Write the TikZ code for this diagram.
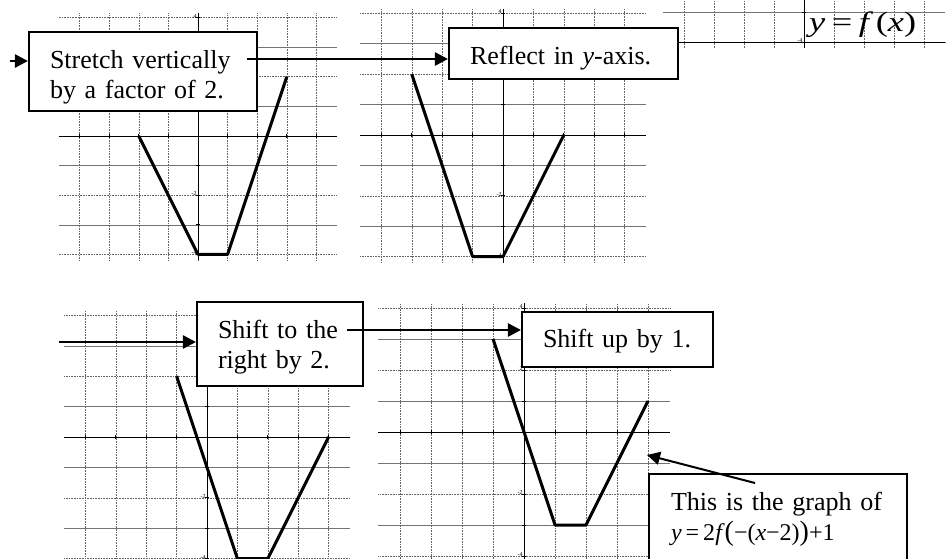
\documentclass[tikz,border=0pt]{standalone}
\usepackage{fontspec}
\setmainfont{Liberation Serif}
\usepackage{graphicx}
\usetikzlibrary{positioning}
\usetikzlibrary{arrows.meta}

% grid with axes, ticks and a few tick labels (#1 = value/label pairs)
\newcommand{\axesgrid}[1]{%
    \foreach \k in {-3,-1,1,3} {
        \draw[gridsolid] (-4.7,\k) -- (4.7,\k);
    }
    \foreach \k in {-4,-2,2,4} {
        \draw[gridline] (-4.7,\k) -- (4.7,\k);
    }
    \foreach \k in {-4,...,4} {
        \draw[gridline] (\k,-4.2) -- (\k,4.15);
        \draw[axisline] (\k,-0.08) -- (\k,0.08);
        \draw[axisline] (-0.08,\k) -- (0.08,\k);
    }
    \draw[axisline] (-4.7,0) -- (4.7,0);
    \draw[axisline] (0,-4.2) -- (0,4.15);
    \foreach \v/\t in {#1} {
        \node[ticklabel] (lab\v) at (-0.02,\v) {\t};
    }
}

\begin{document}
\begin{tikzpicture}[x=1pt, y=-1pt,
    gridline/.style={black!60, densely dotted, line width=0.6pt},
    gridsolid/.style={black!55, line width=0.6pt},
    axisline/.style={black, line width=0.8pt},
    ticklabel/.style={anchor=east, yshift=1.5pt, inner sep=0.5pt, font=\fontsize{6}{6}\selectfont},
    curve/.style={black, line width=3pt, line join=round},
    transbox/.style={draw, fill=white, line width=2.1pt, inner xsep=21pt, inner ysep=0pt,
        align=left, font=\fontsize{26}{30}\selectfont},
    flow/.style={line width=2.6pt, -{Triangle[length=13pt,width=13pt]}}]

    \clip (0,0) rectangle (948,559);

    % Graph 1: stretched vertically
    \begin{scope}[name prefix=gA-, shift={(198,136)}, x=29.6pt, y=29.6pt]
        \axesgrid{4/4, -2/-2, -4/-4}
        \draw[curve] (-2,0) -- (0,-4) -- (1,-4) -- (3,2);
    \end{scope}

    % Graph 2: reflected in y-axis
    \begin{scope}[name prefix=gB-, shift={(503,135)}, x=30.4pt, y=30.4pt]
        \axesgrid{4/4, -2/-2, -4/-4}
        \draw[curve] (2,0) -- (0,-4) -- (-1,-4) -- (-3,2);
    \end{scope}

    % Graph 0: y = f(x), mostly off the page
    \begin{scope}[name prefix=gC-, shift={(804,-78)}, x=30pt, y=30pt]
        \axesgrid{-4/-4}
        \draw[axisline] (-4.7,-4) -- (4.7,-4);
    \end{scope}
    \node[inner sep=0pt, anchor=west] (fx) at (809,25)
        {\scalebox{1.3}[1]{\fontsize{28}{28}\selectfont\textit{y}\hspace{5pt}=\hspace{5pt}\textit{f}\hspace{2pt}(\textit{x})}};

    % Graph 3: shifted right by 2
    \begin{scope}[name prefix=gD-, shift={(207,437)}, x=30.4pt, y=30.4pt]
        \axesgrid{4/4, -2/-2, -4/-4}
        \draw[curve] (4,0) -- (2,-4) -- (1,-4) -- (-1,2);
    \end{scope}

    % Graph 4: shifted up by 1
    \begin{scope}[name prefix=gE-, shift={(524,432)}, x=31pt, y=31pt]
        \axesgrid{4/4, 2/2, -2/-2, -4/-4}
        \draw[curve] (4,1) -- (2,-3) -- (1,-3) -- (-1,3);
    \end{scope}

    % Boxes with the steps
    \node[transbox, text width=186pt, minimum width=228pt, minimum height=79pt]
        (stretch) at (143,71.5) {\rule{0pt}{30pt}Stretch vertically\\by a factor of 2.};
    \node[transbox, text width=187pt, minimum width=229pt, minimum height=51pt]
        (reflect) at (563.5,53.5) {\rule{0pt}{27pt}Reflect in \textit{y}-axis.};
    \node[transbox, text width=124pt, minimum width=166pt, minimum height=84pt]
        (shiftright) at (280,344) {\rule{0pt}{24pt}Shift to the\\right by 2.};
    \node[transbox, text width=149pt, minimum width=191pt, minimum height=55pt]
        (shiftup) at (617.5,339.5) {\rule{0pt}{22pt}Shift up by 1.};
    \node[transbox, inner xsep=22pt, text width=214pt, minimum width=258pt, minimum height=88pt,
        anchor=north west] (result) at (648,473)
        {\rule{0pt}{20pt}This is the graph of\\{\fontsize{24}{30}\selectfont \textit{y}\,=\,2\textit{f}{\fontsize{28}{30}\selectfont(}−(\textit{x}−2){\fontsize{28}{30}\selectfont)}+1}};

    % Arrows between the steps
    \coordinate (in1) at (10,61);
    \coordinate (out1) at (247,59);
    \coordinate (in2) at (59,342);
    \coordinate (out2) at (347,330);
    \coordinate (graphpt) at (647,455);
    \draw[flow] (in1) -- (in1 -| stretch.west);
    \draw[flow] (out1) -- (out1 -| reflect.west);
    \draw[flow] (in2) -- (in2 -| shiftright.west);
    \draw[flow] (out2) -- (out2 -| shiftup.west);
    \draw[flow, line width=2pt] ([shift={(107pt,-10pt)}]result.north west) -- (graphpt);
\end{tikzpicture}
\end{document}
